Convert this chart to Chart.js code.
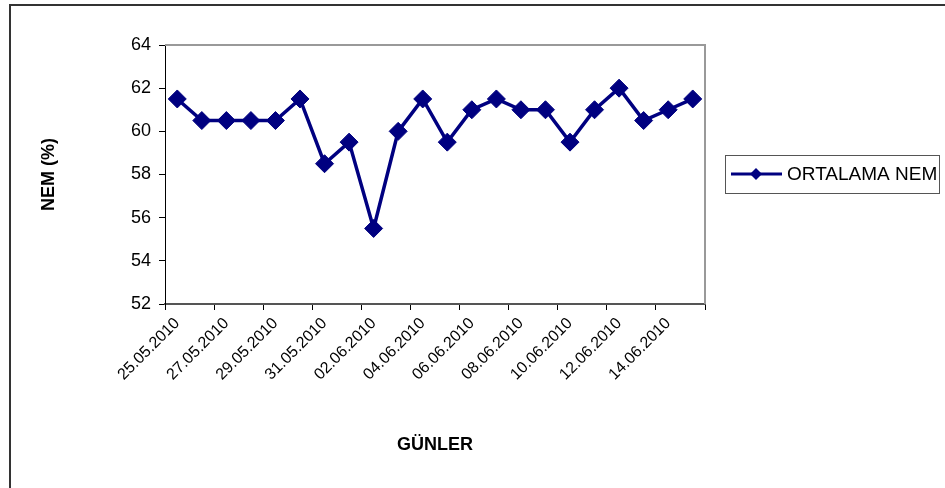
<!DOCTYPE html>
<html>
<head>
<meta charset="utf-8">
<script src="https://cdn.jsdelivr.net/npm/chart.js@4"></script>
<style>
  html, body { margin: 0; padding: 0; background: #fff; overflow: hidden; }
  #kutu { position: relative; width: 945px; height: 488px; }
</style>
</head>
<body>
<div id="kutu"><canvas id="grafik" width="945" height="488"></canvas></div>
<script>
// Günler (her gün bir kategori)
const gunler = [
    "25.05.2010", "26.05.2010", "27.05.2010", "28.05.2010", "29.05.2010", "30.05.2010",
    "31.05.2010", "01.06.2010", "02.06.2010", "03.06.2010", "04.06.2010", "05.06.2010",
    "06.06.2010", "07.06.2010", "08.06.2010", "09.06.2010", "10.06.2010", "11.06.2010",
    "12.06.2010", "13.06.2010", "14.06.2010", "15.06.2010"
];
// Ortalama nem değerleri (%)
const ortalamaNem = [
    61.5, 60.5, 60.5, 60.5, 60.5, 61.5, 58.5, 59.5, 55.5, 60, 61.5,
    59.5, 61, 61.5, 61, 61, 59.5, 61, 62, 60.5, 61, 61.5
];
const yEksenMin = 52;
const yEksenMax = 64;
const yAdim = 2;

const yazi = "'Liberation Sans', Arial, sans-serif";
const lacivert = '#000080';

// Çift indeksli tik çizgileri (ve sondaki) görünsün
function tikRengi(ctx) {
    if (ctx.type !== 'tick' || ctx.index % 2 === 0) return '#000';
    return 'rgba(0,0,0,0)';
}

// Çerçeve, gri alan kenarı ve lejant
const cizimEklentisi = {
    id: 'cizimEklentisi',
    afterDraw(chart) {
        const ctx = chart.ctx;
        const a = chart.chartArea;
        ctx.save();
        // dış çerçeve
        ctx.strokeStyle = '#333';
        ctx.lineWidth = 2;
        ctx.beginPath();
        ctx.moveTo(10, 1000);
        ctx.lineTo(10, 5);
        ctx.lineTo(1000, 5);
        ctx.stroke();
        // çizim alanı üst ve sağ kenar
        ctx.strokeStyle = '#999';
        ctx.lineWidth = 2;
        ctx.beginPath();
        ctx.moveTo(a.left, a.top);
        ctx.lineTo(a.right, a.top);
        ctx.lineTo(a.right, a.bottom);
        ctx.stroke();

        // lejant
        const lx = a.right + 20, ly = 155, lw = 214, lh = 38;
        ctx.strokeStyle = '#555';
        ctx.lineWidth = 1;
        ctx.strokeRect(lx + 0.5, ly + 0.5, lw, lh);
        const my = ly + lh / 2;
        ctx.strokeStyle = lacivert;
        ctx.lineWidth = 3;
        ctx.beginPath();
        ctx.moveTo(lx + 6, my);
        ctx.lineTo(lx + 57, my);
        ctx.stroke();
        ctx.fillStyle = lacivert;
        ctx.beginPath();
        ctx.moveTo(lx + 31, my - 6);
        ctx.lineTo(lx + 37, my);
        ctx.lineTo(lx + 31, my + 6);
        ctx.lineTo(lx + 25, my);
        ctx.closePath();
        ctx.fill();
        ctx.fillStyle = '#000';
        ctx.font = '19px ' + yazi;
        ctx.textBaseline = 'middle';
        ctx.fillText(chart.data.datasets[0].label, lx + 62, my + 1, 151);
        ctx.restore();
    }
};

new Chart(document.getElementById('grafik'), {
    type: 'line',
    data: {
        labels: gunler,
        datasets: [{
            label: 'ORTALAMA NEM',
            data: ortalamaNem,
            borderColor: lacivert,
            borderWidth: 3.5,
            backgroundColor: lacivert,
            pointStyle: 'rectRot',
            pointRadius: 9,
            pointHoverRadius: 9,
            pointBorderWidth: 1,
            pointBackgroundColor: lacivert,
            pointBorderColor: lacivert,
            tension: 0
        }]
    },
    plugins: [cizimEklentisi],
    options: {
        responsive: false,
        animation: false,
        events: [],
        layout: { padding: { left: 38, top: 45, right: 240, bottom: 32 } },
        plugins: {
            legend: { display: false },
            tooltip: { enabled: false }
        },
        scales: {
            x: {
                offset: true,
                grid: {
                    offset: true,
                    drawOnChartArea: false,
                    drawTicks: true,
                    tickLength: 6,
                    color: tikRengi,
                    tickColor: tikRengi
                },
                border: { color: '#555', width: 2 },
                ticks: {
                    autoSkip: false,
                    minRotation: 45,
                    maxRotation: 45,
                    padding: 4,
                    color: '#000',
                    font: { family: yazi, size: 16 },
                    callback: (v, i) => i % 2 === 0 ? gunler[i] : ''
                },
                title: {
                    display: true,
                    text: 'GÜNLER',
                    color: '#000',
                    padding: 0,
                    font: { family: yazi, size: 18, weight: 'bold' }
                },
                afterFit: (s) => { s.height = 152; }
            },
            y: {
                min: yEksenMin,
                max: yEksenMax,
                grid: {
                    drawOnChartArea: false,
                    drawTicks: true,
                    tickLength: 6,
                    color: '#000'
                },
                border: { color: '#000', width: 1 },
                ticks: {
                    stepSize: yAdim,
                    padding: 8,
                    color: '#000',
                    font: { family: yazi, size: 18 }
                },
                title: {
                    display: true,
                    text: 'NEM (%)',
                    color: '#000',
                    padding: 0,
                    font: { family: yazi, size: 18, weight: 'bold' }
                },
                afterFit: (s) => { s.width = 127; }
            }
        }
    }
});
</script>
</body>
</html>
